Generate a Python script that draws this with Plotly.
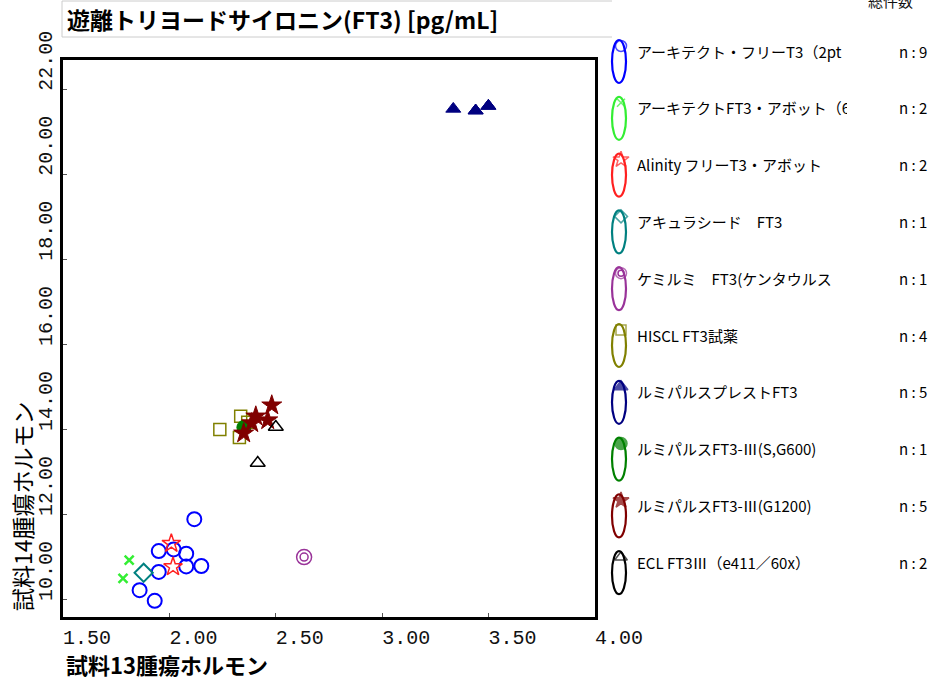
import plotly.graph_objects as go

W, H = 934, 680

# ---------------- data ----------------
title_text = "遊離トリヨードサイロニン(FT3) [pg/mL]"
x_title = "試料13腫瘍ホルモン"
y_title = "試料14腫瘍ホルモン"

x_ticks = [1.5, 2.0, 2.5, 3.0, 3.5, 4.0]
x_tick_labels = ["1.50", "2.00", "2.50", "3.00", "3.50", "4.00"]
y_ticks = [10, 12, 14, 16, 18, 20, 22]
y_tick_labels = ["10.00", "12.00", "14.00", "16.00", "18.00", "20.00", "22.00"]

series_names = [
    "アーキテクト・フリーT3（2pt",
    "アーキテクトFT3・アボット（6",
    "Alinity フリーT3・アボット",
    "アキュラシード　FT3",
    "ケミルミ　FT3(ケンタウルス",
    "HISCL FT3試薬",
    "ルミパルスプレストFT3",
    "ルミパルスFT3-Ⅲ(S,G600)",
    "ルミパルスFT3-Ⅲ(G1200)",
    "ECL FT3Ⅲ（e411／60x）",
]
series_n = [9, 2, 2, 1, 1, 4, 5, 1, 5, 2]

arch_x = [2.117, 1.950, 2.020, 2.079, 1.950, 2.079, 2.150, 1.860, 1.931]
arch_y = [11.90, 11.15, 11.19, 11.09, 10.66, 10.79, 10.80, 10.23, 9.98]
archab_x = [1.811, 1.782]
archab_y = [10.94, 10.51]
alin_x = [2.009, 2.017]
alin_y = [11.33, 10.78]
accu_x = [1.879]
accu_y = [10.64]
chem_x = [2.633]
chem_y = [11.01]
hiscl_x = [2.237, 2.335, 2.329, 2.368]
hiscl_y = [14.01, 14.32, 13.82, 14.18]
presto_x = [3.334, 3.439, 3.499, 3.439, 3.499]
presto_y = [21.55, 21.51, 21.62, 21.51, 21.62]
lumi600_x = [2.350]
lumi600_y = [14.06]
lumi1200_x = [2.349, 2.387, 2.406, 2.462, 2.481]
lumi1200_y = [13.92, 14.16, 14.32, 14.23, 14.58]
ecl_x = [2.500, 2.415]
ecl_y = [14.07, 13.22]

# ---------------- layout constants ----------------
PL, PR, PT, PB = 63, 595, 60, 617   # plot frame in pixels
X_RANGE = [1.5, 4.0]
Y_RANGE = [9.6, 22.7]

colors = ["#0000FF", "#33EE33", "#FF2020", "#008080", "#993399",
          "#808000", "#000080", "#008000", "#800000", "#000000"]

fig = go.Figure()

def add(xs, ys, symbol, color, size, lw=1.5, fill=None):
    fig.add_trace(go.Scatter(
        x=xs, y=ys, mode="markers", showlegend=False, hoverinfo="skip",
        marker=dict(symbol=symbol, size=size, color=fill if fill else color,
                    line=dict(color=color, width=lw)),
        xaxis="x", yaxis="y"))

add(arch_x, arch_y, "circle-open", colors[0], 14, 2)
add(archab_x, archab_y, "x-thin", colors[1], 9, 2.5)
add(alin_x, alin_y, "star-open", colors[2], 14, 1.5)
add(accu_x, accu_y, "diamond-open", colors[3], 14, 2)
add(chem_x, chem_y, "circle-open", colors[4], 15, 1.5)
add(chem_x, chem_y, "circle-open", colors[4], 8, 1.5)
add(hiscl_x, hiscl_y, "square-open", colors[5], 12, 1.5)
add(presto_x, presto_y, "triangle-up", colors[6], 13, 1, colors[6])
add(lumi600_x, lumi600_y, "circle", colors[7], 14, 1, colors[7])
add(lumi1200_x, lumi1200_y, "star", colors[8], 15, 1, colors[8])
add(ecl_x, ecl_y, "triangle-up-open", colors[9], 13, 1.5)

# ---------------- legend (manual) ----------------
leg_syms = ["circle-open", "x-thin", "star-open", "diamond-open", "circle-open",
            "square-open", "triangle-up", "circle", "star", "triangle-up-open"]
leg_sizes = [11, 8, 12, 10, 11, 10, 12, 12, 12, 11]
row_h = 56.8
row0 = 51
shapes = []
annotations = []
lx, ly = [], []
for i, name in enumerate(series_names):
    cy = row0 + row_h * i
    shapes.append(dict(type="circle", xref="x2", yref="y2",
                       x0=612, x1=626, y0=cy - 11, y1=cy + 32,
                       line=dict(color=colors[i], width=2.2)))
    lx.append(621)
    ly.append(cy - 5)
    annotations.append(dict(x=635, y=cy, xref="x2", yref="y2", text=name,
                            showarrow=False, xanchor="left", yanchor="middle",
                            width=210, align="left",
                            font=dict(family="Noto Sans CJK JP", size=15, color="#000")))
    annotations.append(dict(x=929, y=cy, xref="x2", yref="y2", text=f"n : {series_n[i]}",
                            showarrow=False, xanchor="right", yanchor="middle",
                            font=dict(family="Noto Sans CJK JP", size=15, color="#000")))

fig.add_trace(go.Scatter(
    x=lx, y=ly, mode="markers", showlegend=False, hoverinfo="skip",
    marker=dict(symbol=leg_syms, size=leg_sizes, color=colors,
                line=dict(color=colors, width=1.5)),
    xaxis="x2", yaxis="y2", cliponaxis=False))
fig.add_trace(go.Scatter(
    x=[lx[4]], y=[ly[4]], mode="markers", showlegend=False, hoverinfo="skip",
    marker=dict(symbol="circle-open", size=6, color=colors[4], line=dict(color=colors[4], width=1.5)),
    xaxis="x2", yaxis="y2", cliponaxis=False))

# title box lines
for (x0, y0, x1, y1) in [(62, 1, 612, 1), (62, 37, 612, 37), (62, 1, 62, 37)]:
    shapes.append(dict(type="line", xref="x2", yref="y2", x0=x0, y0=y0, x1=x1, y1=y1,
                       line=dict(color="#CCCCCC", width=1)))

annotations.append(dict(x=65, y=19, xref="x2", yref="y2", text=f"<b>{title_text}</b>",
                        showarrow=False, xanchor="left", yanchor="middle",
                        font=dict(family="Noto Sans CJK JP", size=23, color="#000")))
annotations.append(dict(x=64, y=664, xref="x2", yref="y2", text=f"<b>{x_title}</b>",
                        showarrow=False, xanchor="left", yanchor="middle",
                        font=dict(family="Noto Sans CJK JP", size=22, color="#000")))
annotations.append(dict(x=22, y=506, xref="x2", yref="y2", text=y_title, textangle=-90,
                        showarrow=False, xanchor="center", yanchor="middle",
                        font=dict(family="Noto Sans CJK JP", size=23, color="#000")))
annotations.append(dict(x=890, y=0, xref="x2", yref="y2", text="総件数",
                        showarrow=False, xanchor="center", yanchor="middle",
                        font=dict(family="Noto Sans CJK JP", size=15, color="#111")))

tickfont = dict(family="Liberation Mono", size=20, color="#111")
fig.update_layout(
    width=W, height=H,
    margin=dict(l=0, r=0, t=0, b=0),
    paper_bgcolor="white", plot_bgcolor="rgba(0,0,0,0)",
    xaxis=dict(domain=[PL / W, PR / W], range=X_RANGE, tickvals=x_ticks, ticktext=x_tick_labels,
               showgrid=False, zeroline=False, showline=True, linecolor="black", linewidth=3,
               mirror=True, ticks="inside", ticklen=4, tickcolor="#555", tickfont=tickfont,
               ticklabelshift=24, ticklabelstandoff=0, automargin=False),
    yaxis=dict(domain=[1 - PB / H, 1 - PT / H], range=Y_RANGE, tickvals=y_ticks, ticktext=y_tick_labels,
               showgrid=False, zeroline=False, showline=True, linecolor="black", linewidth=3,
               mirror=True, ticks="inside", ticklen=4, tickcolor="#555", tickfont=tickfont,
               tickangle=-90, ticklabelshift=-26, ticklabelstandoff=0, automargin=False),
    xaxis2=dict(domain=[0, 1], range=[0, W], visible=False, anchor="y2"),
    yaxis2=dict(domain=[0, 1], range=[H, 0], visible=False, anchor="x2"),
    shapes=shapes,
    annotations=annotations,
)

fig.write_html("out.html")
